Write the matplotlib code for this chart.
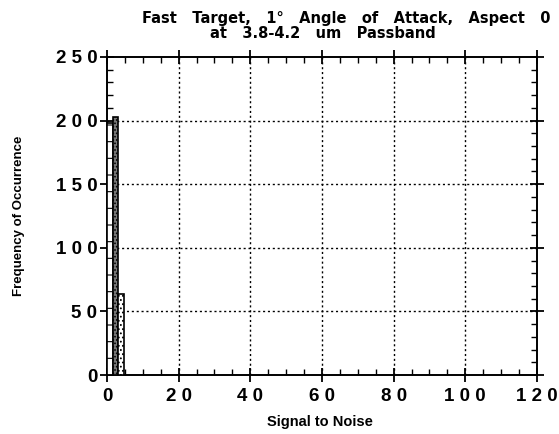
import numpy as np
import matplotlib
matplotlib.use('Agg')
import matplotlib.pyplot as plt
from matplotlib.ticker import MultipleLocator

plt.rcParams['font.family'] = ['Liberation Sans', 'DejaVu Sans']
plt.rcParams['hatch.linewidth'] = 0.8

# histogram bins (signal to noise) and counts
bin_left = [0.0, 1.6, 3.2]
bin_width = [1.6, 1.6, 1.6]
counts = [198, 203, 64]
bar_fill = ['white', '#7a7a7a', 'white']
bar_hatch = ['-', '.....', '....']

x_ticks = [0, 20, 40, 60, 80, 100, 120]
x_labels = ['0', '2 0', '4 0', '6 0', '8 0', '1 0 0', '1 2 0']
y_ticks = [0, 50, 100, 150, 200, 250]
y_labels = ['0', '5 0', '1 0 0', '1 5 0', '2 0 0', '2 5 0']

fig = plt.figure(figsize=(5.59, 4.34), dpi=100)
ax = fig.add_axes([0.1914, 0.1359, 0.7692, 0.7328])

for xl, w, c, fc, h in zip(bin_left, bin_width, counts, bar_fill, bar_hatch):
    ax.bar(xl, c, width=w, align='edge', facecolor=fc, edgecolor='black',
           hatch=h, linewidth=1.2, zorder=3)

ax.set_xlim(0, 120)
ax.set_ylim(0, 250)
ax.set_xticks(x_ticks)
ax.set_xticklabels(x_labels)
ax.set_yticks(y_ticks)
ax.set_yticklabels(y_labels)
ax.xaxis.set_minor_locator(MultipleLocator(5))
ax.yaxis.set_minor_locator(MultipleLocator(10))

ax.tick_params(which='major', direction='inout', length=10, width=1.3,
               top=True, right=True, labelsize=13.5, pad=2)
ax.tick_params(axis='x', which='major', pad=4)
ax.tick_params(which='minor', direction='in', length=4, width=1.0,
               top=True, right=True)
for lab in ax.get_xticklabels() + ax.get_yticklabels():
    lab.set_fontweight('bold')

for v in x_ticks[1:-1]:
    ax.axvline(v, color='black', linestyle=(0, (1.5, 2.0)), linewidth=1.0, zorder=1)
for v in y_ticks[1:-1]:
    ax.axhline(v, color='black', linestyle=(0, (1.5, 2.0)), linewidth=1.0, zorder=1)

for s in ax.spines.values():
    s.set_linewidth(1.4)

ax.set_xlabel('Signal to Noise', fontsize=10.5, fontweight='bold')
ax.xaxis.set_label_coords(0.495, -0.126)
ax.set_ylabel('Frequency of Occurrence', fontsize=9.5, fontweight='bold')
ax.yaxis.set_label_coords(-0.19, 0.5)

# title in a wider bold face
title_font = dict(family='DejaVu Sans', fontsize=10.5, fontweight='bold')
fig.text(0.62, 0.947, 'Fast   Target,   1\u00b0   Angle   of   Attack,   Aspect   0',
         ha='center', va='baseline', **title_font)
fig.text(0.577, 0.912, 'at   3.8-4.2   um   Passband',
         ha='center', va='baseline', **title_font)

fig.savefig('out.png', dpi=100)
